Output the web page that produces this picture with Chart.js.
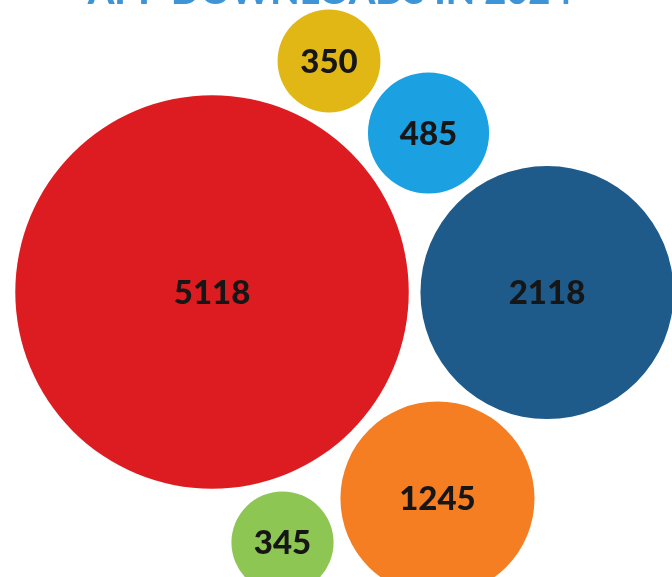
<!DOCTYPE html>
<html>
<head>
<meta charset="utf-8">
<script src="https://cdn.jsdelivr.net/npm/chart.js@4/dist/chart.umd.min.js"></script>
<style>
  html, body { margin: 0; padding: 0; background: #ffffff; }
  #wrap { width: 672px; height: 577px; position: relative; }
</style>
</head>
<body>
<div id="wrap"><canvas id="c" width="672" height="577"></canvas></div>
<script>
// ---- data ----
const titleText = "APP DOWNLOADS IN 2024";
const values = [350, 485, 5118, 2118, 1245, 345];
const xPos = [48.96, 63.77, 31.55, 81.40, 65.10, 42.04];   // packing position (0-100 units)
const yPos = [89.43, 76.95, 49.39, 49.30, 13.60, 5.98];    // packing position (0-100 units)
const colors = ["#e1b716", "#1ba0e2", "#dc1c20", "#1e5b8b", "#f47e21", "#8dc653"];

const K = 2.75; // px per sqrt(value)
const points = values.map((v, i) => ({ x: xPos[i], y: yPos[i], r: K * Math.sqrt(v), v: v }));

const labelPlugin = {
  id: 'bubbleLabels',
  afterDatasetsDraw(chart) {
    const ctx = chart.ctx;
    const meta = chart.getDatasetMeta(0);
    ctx.save();
    ctx.fillStyle = '#161616';
    ctx.font = '900 33px Lato, "DejaVu Sans", sans-serif';
    ctx.textAlign = 'center';
    ctx.textBaseline = 'middle';
    meta.data.forEach((el, i) => {
      ctx.fillText(String(values[i]), el.x, el.y + 1);
    });
    ctx.restore();
  }
};

const titlePlugin = {
  id: 'cutTitle',
  afterDraw(chart) {
    const ctx = chart.ctx;
    ctx.save();
    ctx.fillStyle = '#3d95d8';
    ctx.font = '900 38px Lato, "DejaVu Sans", sans-serif';
    ctx.textAlign = 'center';
    ctx.textBaseline = 'alphabetic';
    ctx.fillText(titleText, 330, 4);
    ctx.restore();
  }
};

new Chart(document.getElementById('c'), {
  type: 'bubble',
  data: {
    datasets: [{
      data: points,
      backgroundColor: colors,
      borderWidth: 0,
      hoverBorderWidth: 0,
      clip: false
    }]
  },
  options: {
    responsive: false,
    animation: false,
    events: [],
    layout: { padding: 0, autoPadding: false },
    plugins: { legend: { display: false }, tooltip: { enabled: false }, title: { display: false } },
    scales: {
      x: { type: 'linear', min: 0, max: 100, display: false },
      y: { type: 'linear', min: 0, max: 100, display: false }
    }
  },
  plugins: [labelPlugin, titlePlugin]
});
</script>
</body>
</html>
